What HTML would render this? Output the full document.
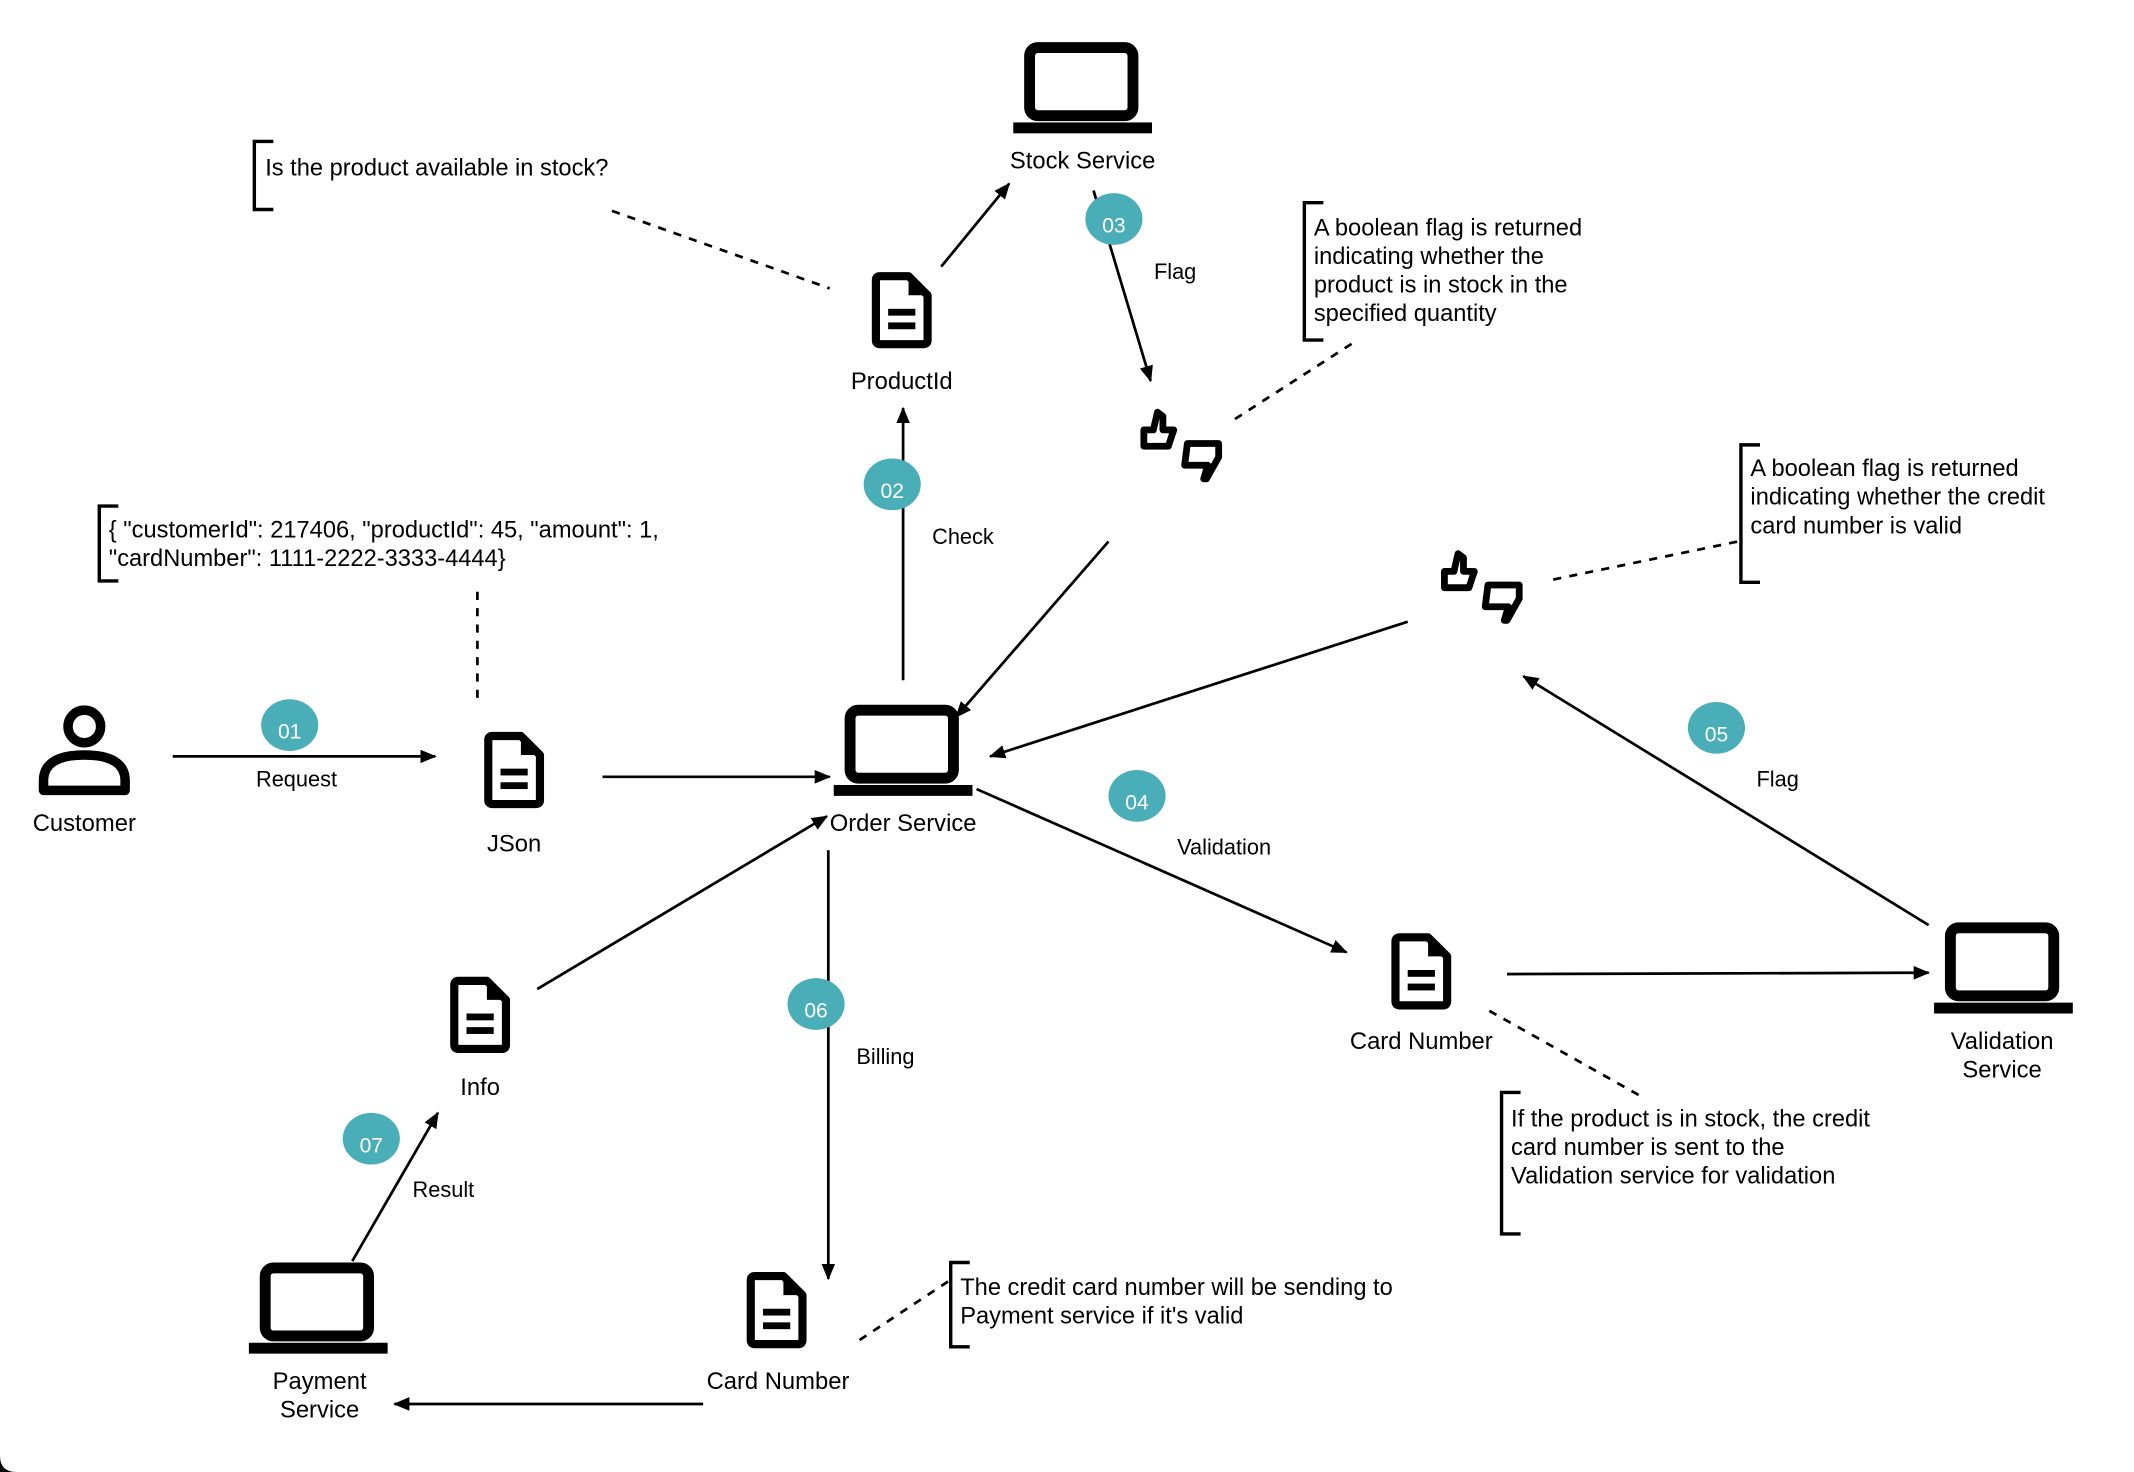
<!DOCTYPE html>
<html><head><meta charset="utf-8"><style>
html,body{margin:0;padding:0;background:#fff;}
svg{display:block;}
text{font-family:"Liberation Sans",Arial,sans-serif;fill:#000;}
</style></head><body>
<svg width="2134" height="1472" viewBox="0 0 1569 1082" preserveAspectRatio="none" xmlns="http://www.w3.org/2000/svg">
<defs>
<marker id="a" viewBox="0 0 12 10" refX="11" refY="5" markerWidth="12" markerHeight="10" orient="auto-start-reverse" markerUnits="userSpaceOnUse">
<path d="M0,0 L12,5 L0,10 Z" fill="#000"/>
</marker>
<g id="doc">
<path d="M6,3 H27 L41,17 V50 Q41,53 38,53 H6 Q3,53 3,50 V6 Q3,3 6,3 Z" fill="none" stroke="#000" stroke-width="6" stroke-linejoin="round"/>
<path d="M27,3 V17 H41 Z" fill="#000"/>
<rect x="12" y="27" width="20" height="5" fill="#000"/>
<rect x="12" y="37" width="20" height="5" fill="#000"/>
</g>
<g id="lap">
<rect x="12" y="4" width="76" height="50" rx="6" fill="none" stroke="#000" stroke-width="8"/>
<rect x="0" y="59" width="102" height="8" fill="#000"/>
</g>
<g id="thumb" fill="none" stroke="#000" stroke-width="5" stroke-linejoin="round">
<path d="M3,30 V18 H10 L13,5 L17,8 V18 H25 L21,30 Z"/>
<path d="M35,28 H58 V38 L49,54 L47,54 L50,44 H33 Z"/>
</g>
</defs>

<g stroke="#000" stroke-width="2" fill="none">
<line x1="127" y1="556" x2="320" y2="556" marker-end="url(#a)"/>
<line x1="443" y1="571" x2="610" y2="571" marker-end="url(#a)"/>
<line x1="664" y1="500" x2="664" y2="300" marker-end="url(#a)"/>
<line x1="692" y1="196" x2="742" y2="135" marker-end="url(#a)"/>
<line x1="804" y1="140" x2="846" y2="280" marker-end="url(#a)"/>
<line x1="815" y1="398" x2="703" y2="527" marker-end="url(#a)"/>
<line x1="1035" y1="457" x2="728" y2="556" marker-end="url(#a)"/>
<line x1="1418" y1="680" x2="1120" y2="497" marker-end="url(#a)"/>
<line x1="718" y1="580" x2="990" y2="700" marker-end="url(#a)"/>
<line x1="1108" y1="716" x2="1418" y2="715" marker-end="url(#a)"/>
<line x1="395" y1="727" x2="608" y2="600" marker-end="url(#a)"/>
<line x1="609" y1="625" x2="609" y2="940" marker-end="url(#a)"/>
<line x1="517" y1="1032" x2="290" y2="1032" marker-end="url(#a)"/>
<line x1="259" y1="927" x2="322" y2="818" marker-end="url(#a)"/>
</g>
<g stroke="#000" stroke-width="2" fill="none" stroke-dasharray="6,6">
<line x1="351" y1="435" x2="351" y2="515"/>
<line x1="450" y1="155" x2="610" y2="212"/>
<line x1="908" y1="308" x2="998" y2="250"/>
<line x1="1142" y1="426" x2="1278" y2="398"/>
<line x1="1095" y1="743" x2="1205" y2="805"/>
<line x1="632" y1="985" x2="700" y2="940"/>
</g>
<g stroke="#000" stroke-width="2.5" fill="none">
<path d="M87,372 H73 V427 H87"/>
<path d="M201,104 H187 V154 H201"/>
<path d="M973,149 H959 V250 H973"/>
<path d="M1294,327 H1280 V428 H1294"/>
<path d="M1118,803 H1104 V907 H1118"/>
<path d="M713,928 H699 V990 H713"/>
</g>

<circle cx="62" cy="534" r="12" fill="none" stroke="#000" stroke-width="7"/>
<path d="M32,581 V574 Q32,555 62,555 Q92,555 92,574 V581 Z" fill="none" stroke="#000" stroke-width="7" stroke-linejoin="round"/>

<use href="#doc" x="356" y="538"/>
<use href="#doc" x="641" y="200"/>
<use href="#doc" x="1023" y="686"/>
<use href="#doc" x="331" y="718"/>
<use href="#doc" x="549" y="935"/>

<use href="#lap" x="613" y="518"/>
<use href="#lap" x="745" y="31"/>
<use href="#lap" x="1422" y="678"/>
<use href="#lap" x="183" y="928"/>

<use href="#thumb" x="838" y="298"/>
<use href="#thumb" x="1059" y="402"/>

<g fill="#4aaeb8">
<ellipse cx="213" cy="533" rx="21" ry="19"/>
<ellipse cx="656" cy="356" rx="21" ry="19"/>
<ellipse cx="819" cy="161" rx="21" ry="19"/>
<ellipse cx="836" cy="585" rx="21" ry="19"/>
<ellipse cx="1262" cy="535" rx="21" ry="19"/>
<ellipse cx="600" cy="738" rx="21" ry="19"/>
<ellipse cx="273" cy="837" rx="21" ry="19"/>
</g>
<g font-size="15.5" text-anchor="middle">
<text x="213" y="543" style="fill:#fff">01</text>
<text x="656" y="366" style="fill:#fff">02</text>
<text x="819" y="171" style="fill:#fff">03</text>
<text x="836" y="595" style="fill:#fff">04</text>
<text x="1262" y="545" style="fill:#fff">05</text>
<text x="600" y="748" style="fill:#fff">06</text>
<text x="273" y="847" style="fill:#fff">07</text>
</g>

<g font-size="17.5" text-anchor="middle">
<text x="62" y="611">Customer</text>
<text x="378" y="626">JSon</text>
<text x="664" y="611">Order Service</text>
<text x="663" y="286">ProductId</text>
<text x="796" y="124">Stock Service</text>
<text x="1045" y="771">Card Number</text>
<text x="1472" y="771">Validation</text>
<text x="1472" y="792">Service</text>
<text x="353" y="805">Info</text>
<text x="572" y="1021">Card Number</text>
<text x="235" y="1021">Payment</text>
<text x="235" y="1042">Service</text>
</g>
<g font-size="16" text-anchor="middle">
<text x="218" y="578">Request</text>
<text x="708" y="400">Check</text>
<text x="864" y="205">Flag</text>
<text x="900" y="628">Validation</text>
<text x="1307" y="578">Flag</text>
<text x="651" y="782">Billing</text>
<text x="326" y="880">Result</text>
</g>
<g font-size="17.4">
<text x="80" y="395">{ "customerId": 217406, "productId": 45, "amount": 1,</text>
<text x="80" y="416">"cardNumber": 1111-2222-3333-4444}</text>
<text x="195" y="129">Is the product available in stock?</text>
<text x="966" y="173">A boolean flag is returned</text>
<text x="966" y="194">indicating whether the</text>
<text x="966" y="215">product is in stock in the</text>
<text x="966" y="236">specified quantity</text>
<text x="1287" y="350">A boolean flag is returned</text>
<text x="1287" y="371">indicating whether the credit</text>
<text x="1287" y="392">card number is valid</text>
<text x="1111" y="828">If the product is in stock, the credit</text>
<text x="1111" y="849">card number is sent to the</text>
<text x="1111" y="870">Validation service for validation</text>
<text x="706" y="952">The credit card number will be sending to</text>
<text x="706" y="973">Payment service if it's valid</text>
</g>
<path d="M0,1070 Q0,1082 12,1082 H0 Z" fill="#000"/>
</svg>
</body></html>
